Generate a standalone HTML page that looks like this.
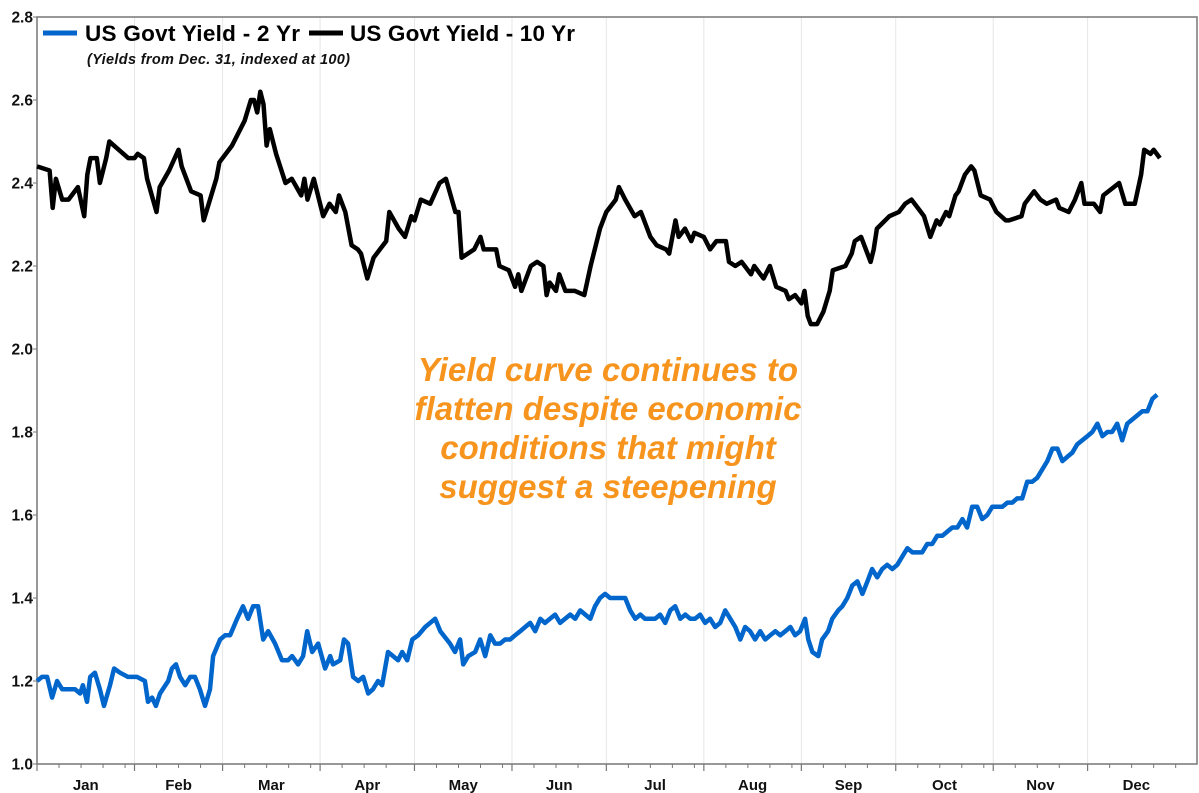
<!DOCTYPE html>
<html><head><meta charset="utf-8"><style>
html,body{margin:0;padding:0;background:#fff;}
svg{display:block;font-family:"Liberation Sans",Arial,sans-serif;}
</style></head><body>
<svg id="chart" width="1199" height="793" viewBox="0 0 1199 793"></svg>
<script>
const yTicks=[1.0,1.2,1.4,1.6,1.8,2.0,2.2,2.4,2.6,2.8];
const monthLabels=["Jan","Feb","Mar","Apr","May","Jun","Jul","Aug","Sep","Oct","Nov","Dec"];
const monthStarts=[0,31,59,90,120,151,181,212,243,273,304,334,365];
const days2y=[0,1.6,3.2,4.8,6.4,8.0,9.5,12.1,13.7,14.6,15.9,16.9,18.4,20.0,21.3,23.2,24.5,26.4,28.9,30.8,31.8,34.3,35.3,36.6,37.8,39.1,41.7,42.9,44.2,45.5,47.1,48.7,50.2,51.8,53.4,55.0,56.0,58.2,59.8,61.4,63.6,65.5,67.1,68.7,70.3,71.9,73.5,75.7,77.9,79.8,81.1,83.0,84.6,85.9,87.5,89.4,91.6,93.2,94.1,96.4,97.6,98.9,100.5,102.1,103.7,105.3,106.8,108.4,109.7,111.6,113.2,114.8,116.1,117.7,119.3,121.2,123.4,125.0,126.6,128.2,131.3,132.9,134.5,135.5,137.1,139.3,140.9,142.5,144.1,145.6,147.2,148.8,150.4,152.0,153.6,155.2,156.8,158.4,160.0,161.5,163.1,164.7,166.3,167.9,169.5,171.1,172.7,174.3,175.9,177.4,179.0,180.6,182.2,183.8,185.4,187.0,188.6,190.2,191.8,193.3,194.9,196.5,198.1,199.7,201.3,202.9,204.5,206.1,207.7,209.2,210.8,212.4,214.0,215.6,217.2,218.8,220.4,222.0,223.6,225.1,226.7,228.3,229.9,231.5,233.1,234.7,236.3,237.9,239.5,241.0,242.6,244.2,245.2,246.5,248.4,249.6,251.5,252.8,254.7,256.0,257.6,259.2,260.8,262.4,264.0,265.5,267.1,268.7,270.3,271.9,273.5,275.1,276.7,278.3,279.8,281.4,283.0,284.6,286.2,287.8,289.4,291.0,292.6,294.2,295.7,297.3,298.9,300.5,302.1,303.7,305.3,306.9,308.5,310.1,311.6,313.2,314.8,316.4,318.0,319.6,321.2,322.8,324.4,326.0,327.5,329.1,330.7,332.3,333.9,335.5,337.1,338.7,340.3,341.8,343.4,345.0,346.6,348.2,349.8,351.4,353.0,354.6,356.1,357.1];
const yield2y=[1.20,1.21,1.21,1.16,1.20,1.18,1.18,1.18,1.17,1.19,1.15,1.21,1.22,1.18,1.14,1.19,1.23,1.22,1.21,1.21,1.21,1.20,1.15,1.16,1.14,1.17,1.20,1.23,1.24,1.21,1.19,1.21,1.21,1.18,1.14,1.18,1.26,1.30,1.31,1.31,1.35,1.38,1.35,1.38,1.38,1.30,1.32,1.29,1.25,1.25,1.26,1.24,1.26,1.32,1.27,1.29,1.23,1.26,1.24,1.25,1.30,1.29,1.21,1.20,1.21,1.17,1.18,1.20,1.19,1.27,1.26,1.25,1.27,1.25,1.30,1.31,1.33,1.34,1.35,1.32,1.29,1.27,1.30,1.24,1.26,1.27,1.30,1.26,1.31,1.29,1.29,1.30,1.30,1.31,1.32,1.33,1.34,1.32,1.35,1.34,1.35,1.36,1.34,1.35,1.36,1.35,1.37,1.36,1.35,1.38,1.40,1.41,1.40,1.40,1.40,1.40,1.37,1.35,1.36,1.35,1.35,1.35,1.36,1.34,1.37,1.38,1.35,1.36,1.35,1.35,1.36,1.34,1.35,1.33,1.34,1.37,1.35,1.33,1.30,1.33,1.32,1.30,1.32,1.30,1.31,1.32,1.31,1.32,1.33,1.31,1.32,1.35,1.30,1.27,1.26,1.30,1.32,1.35,1.37,1.38,1.40,1.43,1.44,1.41,1.44,1.47,1.45,1.47,1.48,1.47,1.48,1.50,1.52,1.51,1.51,1.51,1.53,1.53,1.55,1.55,1.56,1.57,1.57,1.59,1.57,1.62,1.62,1.59,1.60,1.62,1.62,1.62,1.63,1.63,1.64,1.64,1.68,1.68,1.69,1.71,1.73,1.76,1.76,1.73,1.74,1.75,1.77,1.78,1.79,1.80,1.82,1.79,1.80,1.80,1.82,1.78,1.82,1.83,1.84,1.85,1.85,1.88,1.89];
const days10y=[0,4,5,6,8,10,13,15,16,17,19,20,22,23,26,29,31,32,34,35,38,39,42,45,46,49,52,53,57,58,62,66,68,69,70,71,72,73,74,76,79,81,84,85,86,88,91,93,95,96,98,100,102,103,105,107,111,112,115,117,119,120,122,125,128,130,133,134,135,139,141,142,146,147,150,152,153,154,157,159,161,162,163,165,166,168,171,174,176,179,181,184,185,187,190,192,195,197,200,201,203,204,206,208,209,212,214,216,219,220,222,224,227,228,231,233,235,238,239,241,243,244,245,246,248,250,252,253,257,259,260,262,263,265,266,267,271,274,276,278,281,282,284,286,287,289,290,292,293,295,297,298,300,303,305,308,309,313,314,317,319,321,324,325,328,330,332,333,336,338,339,344,346,349,351,352,354,355,357];
const yield10y=[2.44,2.43,2.34,2.41,2.36,2.36,2.39,2.32,2.42,2.46,2.46,2.40,2.46,2.50,2.48,2.46,2.46,2.47,2.46,2.41,2.33,2.39,2.43,2.48,2.44,2.38,2.37,2.31,2.41,2.45,2.49,2.55,2.60,2.60,2.57,2.62,2.59,2.49,2.53,2.47,2.40,2.41,2.37,2.41,2.36,2.41,2.32,2.35,2.33,2.37,2.33,2.25,2.24,2.23,2.17,2.22,2.26,2.33,2.29,2.27,2.32,2.31,2.36,2.35,2.40,2.41,2.33,2.33,2.22,2.24,2.27,2.24,2.24,2.20,2.19,2.15,2.18,2.14,2.20,2.21,2.20,2.13,2.16,2.14,2.18,2.14,2.14,2.13,2.20,2.29,2.33,2.36,2.39,2.36,2.32,2.33,2.27,2.25,2.24,2.23,2.31,2.27,2.29,2.26,2.28,2.27,2.24,2.26,2.26,2.21,2.20,2.21,2.18,2.20,2.17,2.20,2.15,2.14,2.12,2.13,2.11,2.14,2.08,2.06,2.06,2.09,2.14,2.19,2.20,2.23,2.26,2.27,2.25,2.21,2.24,2.29,2.32,2.33,2.35,2.36,2.33,2.32,2.27,2.31,2.30,2.33,2.32,2.37,2.38,2.42,2.44,2.43,2.37,2.36,2.33,2.31,2.31,2.32,2.35,2.38,2.36,2.35,2.36,2.34,2.33,2.36,2.40,2.35,2.35,2.33,2.37,2.40,2.35,2.35,2.42,2.48,2.47,2.48,2.46];

const NS="http://www.w3.org/2000/svg";
const svg=document.getElementById('chart');
const L=37,R=1197,T=17,B=764,X0=37,X1=1187;
const xs=d=>X0+d*(X1-X0)/365.6;
const ys=v=>B-(v-1.0)*(B-T)/1.8;
function mk(tag,attrs,parent){const e=document.createElementNS(NS,tag);for(const k in attrs)e.setAttribute(k,attrs[k]);(parent||svg).appendChild(e);return e;}

const grid=mk('g',{});


monthStarts.slice(1,12).forEach(d=>{mk('line',{x1:xs(d),x2:xs(d),y1:T,y2:B,stroke:'#e6e6e6','stroke-width':1},grid);});

const frame=mk('rect',{x:L,y:T,width:R-L,height:B-T,fill:'none',stroke:'#777','stroke-width':1.5});



const yax=mk('g',{});


yTicks.forEach(v=>{
  mk('line',{x1:L-4,x2:L,y1:ys(v),y2:ys(v),stroke:'#777','stroke-width':1},yax);
  const t=mk('text',{x:L-4,y:ys(v)+5.5,'text-anchor':'end','font-size':15.5,'font-weight':'bold',fill:'#111'},yax);
  t.textContent=v.toFixed(1);
  
  
});

const xax=mk('g',{});


monthStarts.slice(0,12).forEach((d,i)=>{
  mk('line',{x1:xs(d),x2:xs(d),y1:B,y2:B+7,stroke:'#777','stroke-width':1.2},xax);
  for(let w=7;w<monthStarts[i+1]-d-2;w+=7){mk('line',{x1:xs(d+w),x2:xs(d+w),y1:B,y2:B+4,stroke:'#777','stroke-width':1},xax);}
  const t=mk('text',{x:xs((d+monthStarts[i+1])/2),y:790,'text-anchor':'middle','font-size':15,'font-weight':'bold',fill:'#111'},xax);
  t.textContent=monthLabels[i];
  
  
});

function path(days,vals){return days.map((d,i)=>(i?'L':'M')+xs(d).toFixed(1)+' '+ys(vals[i]).toFixed(1)).join(' ');}
const p10=mk('path',{d:path(days10y,yield10y),fill:'none',stroke:'#000','stroke-width':4.5,'stroke-linejoin':'round'});


const p2=mk('path',{d:path(days2y,yield2y),fill:'none',stroke:'#0066CC','stroke-width':4.5,'stroke-linejoin':'round'});


</script>
<svg style="position:absolute;left:0;top:0" width="1199" height="793">
  <g font-family="Liberation Sans, Arial, sans-serif" font-weight="bold">
    <g>
      <line x1="43" y1="33" x2="77" y2="33" stroke="#0066CC" stroke-width="5"/>
      <text x="85" y="41" font-size="22.5" fill="#000" textLength="215">US Govt Yield - 2 Yr</text>
    </g>
    <g>
      <line x1="309" y1="33" x2="343" y2="33" stroke="#000" stroke-width="5"/>
      <text x="350" y="41" font-size="22.5" fill="#000" textLength="225">US Govt Yield - 10 Yr</text>
    </g>
  </g>
  <text x="87" y="64" font-family="Liberation Sans, Arial, sans-serif" font-size="14.5" font-style="italic" font-weight="bold" fill="#111" textLength="263">(Yields from Dec. 31, indexed at 100)</text>
  <g font-family="Liberation Sans, Arial, sans-serif" font-size="33" font-weight="bold" font-style="italic" fill="#F7941D" text-anchor="middle">
    <text x="608" y="381">Yield curve continues to</text>
    <text x="608" y="420">flatten despite economic</text>
    <text x="608" y="459">conditions that might</text>
    <text x="608" y="498">suggest a steepening</text>
  </g>
</svg>
</body></html>
